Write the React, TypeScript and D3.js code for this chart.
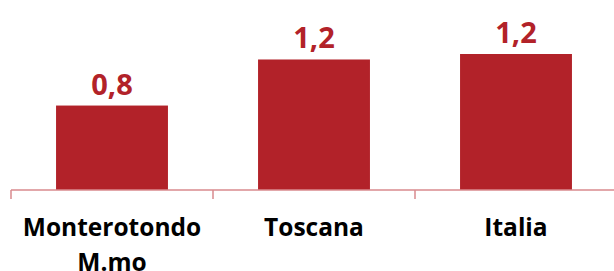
import React from 'react';
import * as d3 from 'd3';

const categories = ['Monterotondo M.mo', 'Toscana', 'Italia'];
const values = [0.77, 1.19, 1.24];

const width = 614;
const height = 271;
const barColor = '#b22229';
const axisColor = '#d98a8e';
const font = "'Open Sans', sans-serif";

function splitLabel(label: string) {
    // long names go on two lines, like the original
    return label.length > 12 ? label.split(' ') : [label];
}

export default function App() {
    const axisY = 190;

    const x = d3.scaleBand<string>()
        .domain(categories)
        .range([11, 617])
        .paddingInner(0.446)
        .paddingOuter(0.223);

    const band = d3.scaleBand<string>()
        .domain(categories)
        .range([11, 617]);

    const y = d3.scaleLinear()
        .domain([0, d3.max(values) as number])
        .range([axisY, 54]);

    const fmt = (v: number) => d3.format('.1f')(v).replace('.', ',');

    const ticks = [...categories.map((c) => band(c) as number), 617];

    return (
        <svg width={width} height={height} style={{ position: 'absolute', left: 0, top: 0 }} xmlns="http://www.w3.org/2000/svg">
            <rect width={width} height={height} fill="#fff" />
            {categories.map((c, i) => (
                <rect
                    key={`bar_${i}`}
                    x={x(c)}
                    y={y(values[i])}
                    width={x.bandwidth()}
                    height={axisY - y(values[i])}
                    fill={barColor}
                />
            ))}
            {categories.map((c, i) => (
                <text
                    key={`val_${i}`}
                    x={(x(c) as number) + x.bandwidth() / 2}
                    y={y(values[i]) - 11}
                    textAnchor="middle"
                    fill={barColor}
                    fontFamily={font}
                    fontWeight="bold"
                    fontSize={29}
                >
                    {fmt(values[i])}
                </text>
            ))}
            <line x1={11} x2={width} y1={axisY} y2={axisY} stroke={axisColor} strokeWidth={1.5} />
            {ticks.map((t, i) => (
                <line key={`tick_${i}`} x1={t} x2={t} y1={axisY} y2={axisY + 9} stroke={axisColor} strokeWidth={1.5} />
            ))}
            {categories.map((c, i) => (
                <text
                    key={`cat_${i}`}
                    x={(band(c) as number) + band.bandwidth() / 2}
                    y={236}
                    textAnchor="middle"
                    fill="#000"
                    fontFamily={font}
                    fontWeight="bold"
                    fontSize={24.5}
                >
                    {splitLabel(c).map((line, j) => (
                        <tspan key={j} x={(band(c) as number) + band.bandwidth() / 2} dy={j === 0 ? 0 : 35}>{line}</tspan>
                    ))}
                </text>
            ))}
        </svg>
    );
}
